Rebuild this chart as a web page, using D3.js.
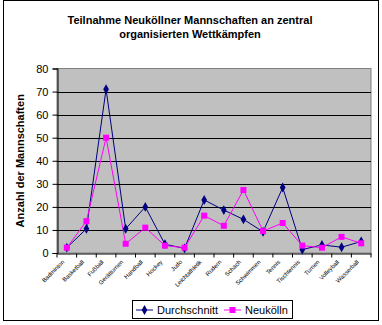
<!DOCTYPE html>
<html>
<head>
<meta charset="utf-8">
<script src="https://cdn.jsdelivr.net/npm/d3@7/dist/d3.min.js"></script>
<style>
  html, body { margin: 0; padding: 0; background: #fff; }
  svg { display: block; font-family: "Liberation Sans", Arial, sans-serif; }
</style>
</head>
<body>
<svg id="chart" width="382" height="325"></svg>
<script>
// Sportarten (Wettkampfkategorien)
const categories = [
  "Badminton", "Basketball", "Fußball", "Gerätturnen", "Handball", "Hockey",
  "Judo", "Leichtathletik", "Rudern", "Schach", "Schwimmen", "Tennis",
  "Tischtennis", "Turnen", "Volleyball", "Wasserball"
];
const seriesNames = ["Durchschnitt", "Neukölln"];
const durchschnitt = [2.3, 10.5, 71, 10.5, 20, 3.8, 2, 23, 18.6, 14.6, 9.2, 28.4, 1.5, 3.5, 2.5, 5];
const neukoelln   = [2.3, 13.8, 50, 4, 11, 3.2, 2.3, 16.2, 11.8, 27.3, 9.5, 13, 3.2, 2.3, 7, 4.2];
const yTicks = [0, 10, 20, 30, 40, 50, 60, 70, 80];

const titleLines = ["Teilnahme Neuköllner Mannschaften an zentral", "organisierten Wettkämpfen"];
const yTitle = "Anzahl der Mannschaften";

const svg = d3.select("#chart");
const W = 382, H = 325;

// Rahmen um das gesamte Diagramm
svg.append("rect").attr("x", 3.5).attr("y", 0.5).attr("width", 375).attr("height", 320)
  .attr("fill", "#fff").attr("stroke", "#000").attr("stroke-width", 1);

// Titel
svg.append("g").selectAll("text").data(titleLines).join("text")
  .attr("x", 190).attr("y", (d, i) => 24 + i * 14)
  .attr("text-anchor", "middle").attr("font-weight", "bold").attr("font-size", 11)
  .text(d => d);

const plot = { left: 57, right: 371, top: 68.5, bottom: 253 };

const x = d3.scaleBand().domain(categories).range([plot.left, plot.right]).padding(0);
const y = d3.scaleLinear().domain([0, 80]).range([plot.bottom, plot.top]);

// Zeichenfläche
svg.append("rect").attr("x", plot.left).attr("y", plot.top)
  .attr("width", plot.right - plot.left).attr("height", plot.bottom - plot.top)
  .attr("fill", "#c0c0c0").attr("stroke", "#808080").attr("stroke-width", 1);

// Gitternetzlinien
svg.append("g").selectAll("line").data(yTicks.filter(t => t > 0 && t < 80)).join("line")
  .attr("x1", plot.left).attr("x2", plot.right)
  .attr("y1", d => Math.round(y(d)) + 0.5).attr("y2", d => Math.round(y(d)) + 0.5)
  .attr("stroke", "#000").attr("stroke-width", 1);

// Y-Achse
const yAxis = svg.append("g").attr("transform", `translate(${plot.left + 0.5},0)`)
  .call(d3.axisLeft(y).tickValues(yTicks).tickSize(5).tickPadding(4));
yAxis.select(".domain").attr("stroke", "#000");
yAxis.selectAll("text").attr("font-size", 11).attr("font-family", "Liberation Sans, Arial, sans-serif").attr("fill", "#000");

// X-Achse
const xAxis = svg.append("g").attr("transform", `translate(0,${plot.bottom + 0.5})`)
  .call(d3.axisBottom(x).tickSize(4).tickSizeOuter(0));
xAxis.selectAll(".tick line").attr("transform", function(d) { return `translate(${-x.bandwidth() / 2},0)`; });
xAxis.append("line").attr("x1", plot.right).attr("x2", plot.right).attr("y1", 0).attr("y2", 4).attr("stroke", "#000");
xAxis.selectAll(".tick text")
  .attr("font-size", 6).attr("font-family", "Liberation Sans, Arial, sans-serif").attr("fill", "#000")
  .attr("text-anchor", "end").attr("dy", 0).attr("y", 0)
  .attr("transform", "translate(-2,9) rotate(-45)");

// Y-Achsentitel
svg.append("text")
  .attr("transform", `translate(24,${(plot.top + plot.bottom) / 2}) rotate(-90)`)
  .attr("text-anchor", "middle").attr("font-weight", "bold").attr("font-size", 11)
  .text(yTitle);

// Linien und Marker
const series = [
  { name: seriesNames[0], values: durchschnitt, color: "#000080", marker: "diamond" },
  { name: seriesNames[1], values: neukoelln, color: "#ff00ff", marker: "square" }
];
const line = d3.line().x((d, i) => x(categories[i]) + x.bandwidth() / 2).y(d => y(d));

function drawMarker(g, type, color) {
  if (type === "square") {
    g.append("rect").attr("x", -3).attr("y", -3).attr("width", 6).attr("height", 6).attr("fill", color);
  } else {
    g.append("path").attr("d", d3.symbol().type(d3.symbolDiamond).size(28)()).attr("fill", color);
  }
}

series.forEach(s => {
  svg.append("path").datum(s.values).attr("d", line)
    .attr("fill", "none").attr("stroke", s.color).attr("stroke-width", 1);
});
series.forEach(s => {
  svg.append("g").selectAll("g").data(s.values).join("g")
    .attr("transform", (d, i) => `translate(${x(categories[i]) + x.bandwidth() / 2},${y(d)})`)
    .each(function() { drawMarker(d3.select(this), s.marker, s.color); });
});

// Legende
const leg = svg.append("g");
leg.append("rect").attr("x", 132.5).attr("y", 300.5).attr("width", 160).attr("height", 18)
  .attr("fill", "#fff").attr("stroke", "#000");
const legX = [136, 224];
series.forEach((s, i) => {
  const g = leg.append("g").attr("transform", `translate(${legX[i]},310)`);
  g.append("line").attr("x1", 0).attr("x2", 17).attr("stroke", s.color);
  drawMarker(g.append("g").attr("transform", "translate(8.5,0)"), s.marker, s.color);
  g.append("text").attr("x", 21).attr("y", 4).attr("font-size", 11).text(s.name);
});
</script>
</body>
</html>
